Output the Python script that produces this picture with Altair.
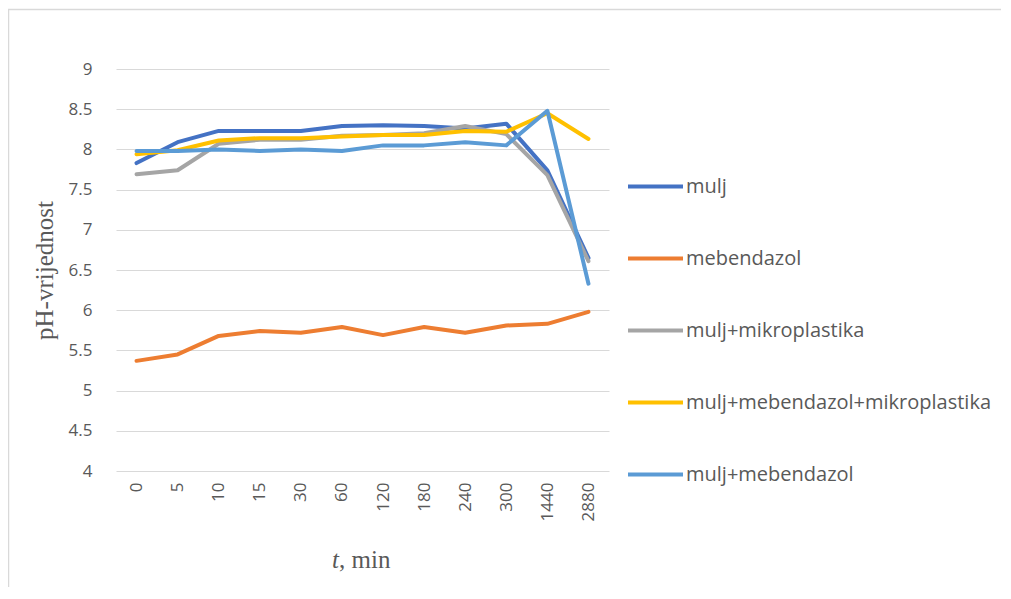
import altair as alt
import pandas as pd

times = ["0", "5", "10", "15", "30", "60", "120", "180", "240", "300", "1440", "2880"]
series_names = ["mulj", "mebendazol", "mulj+mikroplastika",
                "mulj+mebendazol+mikroplastika", "mulj+mebendazol"]
colors = ["#4472C4", "#ED7D31", "#A5A5A5", "#FFC000", "#5B9BD5"]

mulj = [7.83, 8.09, 8.23, 8.23, 8.23, 8.29, 8.30, 8.29, 8.26, 8.32, 7.74, 6.65]
mebendazol = [5.37, 5.45, 5.68, 5.74, 5.72, 5.79, 5.69, 5.79, 5.72, 5.81, 5.83, 5.98]
mulj_mikro = [7.69, 7.74, 8.07, 8.12, 8.12, 8.17, 8.18, 8.20, 8.29, 8.19, 7.68, 6.61]
mulj_meb_mikro = [7.94, 7.99, 8.11, 8.14, 8.14, 8.16, 8.18, 8.18, 8.23, 8.22, 8.45, 8.13]
mulj_meb = [7.98, 7.98, 8.00, 7.98, 8.00, 7.98, 8.05, 8.05, 8.09, 8.05, 8.48, 6.33]

y_ticks = [4, 4.5, 5, 5.5, 6, 6.5, 7, 7.5, 8, 8.5, 9]

all_series = [mulj, mebendazol, mulj_mikro, mulj_meb_mikro, mulj_meb]
rows = []
for si, (name, vals) in enumerate(zip(series_names, all_series)):
    for t, v in zip(times, vals):
        rows.append({"t": t, "ph": v, "serija": name, "ord": si})
df = pd.DataFrame(rows)
one = pd.DataFrame({"k": [0]})

W, H = 493, 402
GRID = "#D9D9D9"
TXT = "#595959"

lines = alt.Chart(df).mark_line(strokeWidth=4, strokeCap="round", strokeJoin="round").encode(
    x=alt.X("t:N", sort=times,
            scale=alt.Scale(type="point", padding=0.5),
            axis=alt.Axis(title=None, labelAngle=-90, labelAlign="right", labelBaseline="middle",
                          labelPadding=11, ticks=False, domain=False, grid=False,
                          labelFont="Open Sans", labelFontSize=17, labelColor=TXT)),
    y=alt.Y("ph:Q", scale=alt.Scale(domain=[4, 9], nice=False, zero=False),
            axis=alt.Axis(values=y_ticks, title="pH-vrijednost", labelExpr="datum.value + ''",
                          ticks=False, domain=False, gridColor=GRID, gridWidth=1.2,
                          labelPadding=24, labelFont="Open Sans", labelFontSize=17,
                          labelColor=TXT, titleFont="Liberation Serif", titleFontSize=25,
                          titleFontWeight="normal", titleColor=TXT, titleX=-59, titleY=H / 2)),
    color=alt.Color("serija:N", sort=series_names,
                    scale=alt.Scale(domain=series_names, range=colors),
                    legend=alt.Legend(title=None, orient="none", legendX=510, legendY=88,
                                      symbolType="stroke", symbolSize=3025, symbolStrokeWidth=4,
                                      labelOffset=1, labelFont="Open Sans", labelFontSize=20,
                                      labelColor=TXT, rowPadding=32, padding=0,
                                      labelLimit=400)),
    order=alt.Order("ord:Q"),
    detail="serija:N",
)

title_t = alt.Chart(one).mark_text(text="t", font="Liberation Serif", fontSize=25,
                                   fontStyle="italic", color=TXT, align="left",
                                   baseline="alphabetic").encode(
    x=alt.value(216), y=alt.value(499))
title_rest = alt.Chart(one).mark_text(text=", min", font="Liberation Serif", fontSize=25,
                                      color=TXT, align="left", baseline="alphabetic").encode(
    x=alt.value(223), y=alt.value(499))

border_top = alt.Chart(one).mark_rule(color=GRID, strokeWidth=1.5).encode(
    x=alt.value(-108), x2=alt.value(W + 392), y=alt.value(-59.5))
border_left = alt.Chart(one).mark_rule(color=GRID, strokeWidth=1.5).encode(
    x=alt.value(-107.5), y=alt.value(-59.5), y2=alt.value(H + 116))

chart = alt.layer(border_top, border_left, lines, title_t, title_rest).properties(
    width=W, height=H,
    autosize=alt.AutoSizeParams(type="none"),
    padding={"left": 108, "top": 61, "right": 392, "bottom": 116},
).configure_view(stroke=None)

chart.save("out.html", embed_options={"renderer": "svg", "actions": False})
